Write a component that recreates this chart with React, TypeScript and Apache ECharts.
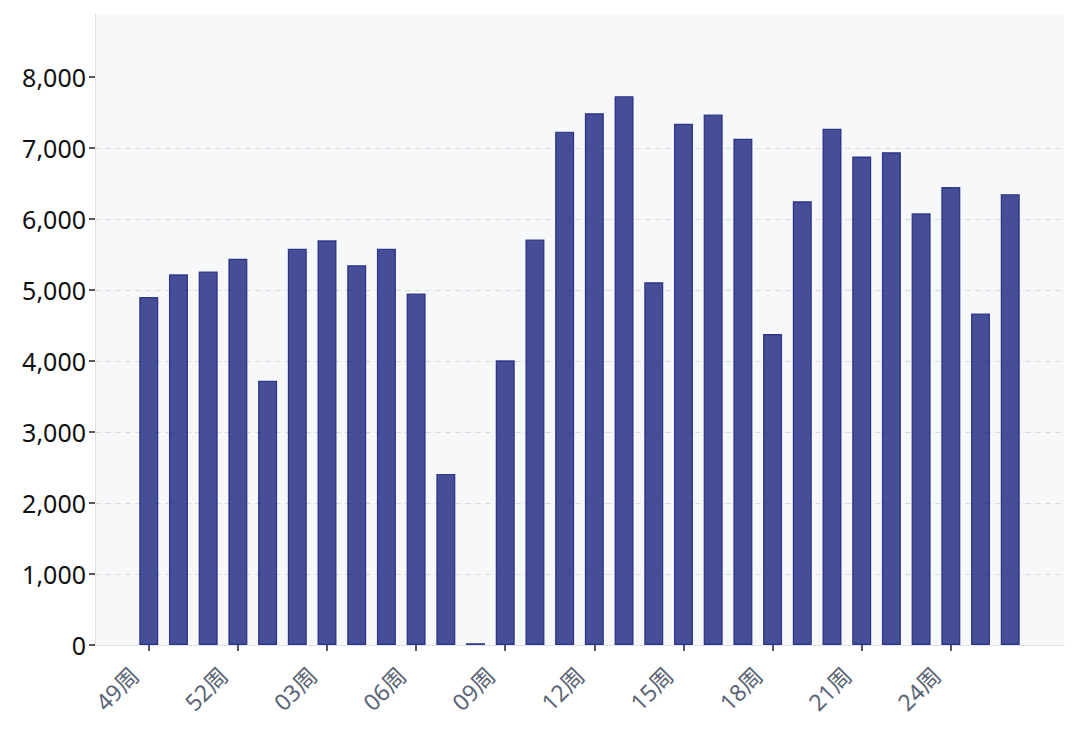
import React, { useEffect, useRef } from "react";
import * as echarts from "echarts";

const weeks = [
  "49周", "50周", "51周", "52周", "01周", "02周", "03周", "04周", "05周", "06周",
  "07周", "08周", "09周", "10周", "11周", "12周", "13周", "14周", "15周", "16周",
  "17周", "18周", "19周", "20周", "21周", "22周", "23周", "24周", "25周", "26周",
];
const values = [
  4900, 5220, 5260, 5440, 3720, 5580, 5700, 5350, 5580, 4950,
  2410, 25, 4010, 5710, 7230, 7490, 7730, 5110, 7340, 7470,
  7130, 4380, 6250, 7270, 6880, 6940, 6080, 6450, 4670, 6350,
];
const labeledIndex = [0, 3, 6, 9, 12, 15, 18, 21, 24, 27];
const yTicks = [0, 1000, 2000, 3000, 4000, 5000, 6000, 7000, 8000];

const FONT = "'Noto Sans', 'Noto Sans CJK SC', sans-serif";

export default function App() {
  const ref = useRef<HTMLDivElement>(null);
  useEffect(() => {
    if (!ref.current) return;
    const chart = echarts.init(ref.current, undefined, { renderer: "svg" });
    chart.setOption({
      animation: false,
      backgroundColor: "#ffffff",
      grid: {
        left: 95,
        right: 16,
        top: 14,
        bottom: 89,
        show: true,
        backgroundColor: "#f6f8fa",
        borderWidth: 0,
      },
      xAxis: {
        type: "value",
        min: -1.81,
        max: 30.81,
        splitLine: { show: false },
        axisLine: { show: true, onZero: false, lineStyle: { color: "#dfe2e6", width: 1 } },
        axisTick: {
          show: true,
          customValues: labeledIndex,
          length: 6,
          lineStyle: { color: "#222", width: 1.5 },
        },
        axisLabel: {
          customValues: labeledIndex,
          formatter: (v: number) => weeks[Math.round(v)] ?? "",
          rotate: 45,
          margin: 28,
          verticalAlign: "bottom",
          padding: [0, 9, 0, 0],
          color: "#5b6475",
          fontSize: 23,
          fontFamily: FONT,
        },
      },
      yAxis: {
        type: "value",
        min: 0,
        max: 8887,
        interval: 1000,
        axisLine: { show: true, onZero: false, lineStyle: { color: "#dfe2e6", width: 1 } },
        axisTick: {
          show: true,
          customValues: yTicks,
          length: 6,
          lineStyle: { color: "#222", width: 1.5 },
        },
        axisLabel: {
          customValues: yTicks,
          formatter: (v: number) => v.toLocaleString("en-US"),
          color: "#111",
          fontSize: 25,
          margin: 9,
          fontFamily: FONT,
        },
        splitLine: {
          show: true,
          showMinLine: false,
          showMaxLine: false,
          lineStyle: { color: "#d9dce1", type: [6, 4], width: 1 },
        },
      },
      series: [
        {
          type: "bar",
          data: values.map((v, i) => [i, v]),
          barWidth: 19,
          itemStyle: {
            color: "rgba(26,35,126,0.8)",
            borderColor: "rgba(26,35,126,0.85)",
            borderWidth: 1.2,
          },
        },
      ],
    });
    return () => chart.dispose();
  }, []);
  return (
    <div
      ref={ref}
      style={{ position: "fixed", left: 0, top: 0, width: 1080, height: 734 }}
    />
  );
}
